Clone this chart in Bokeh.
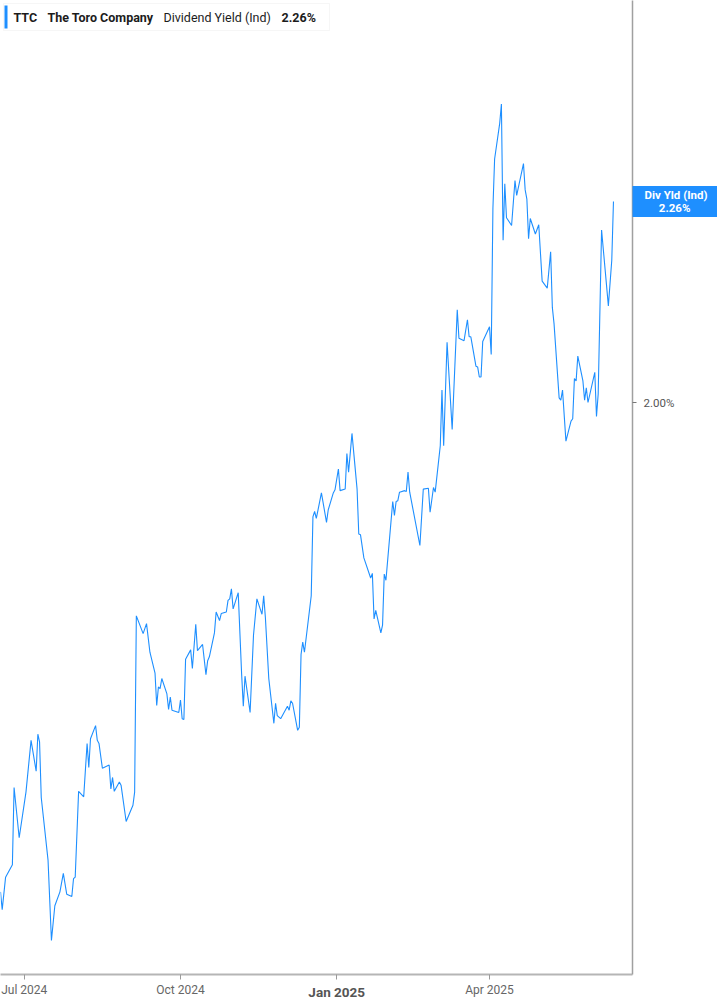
import pandas as pd
from bokeh.plotting import figure
from bokeh.models import (Range1d, FixedTicker, PrintfTickFormatter, Label,
                          BoxAnnotation, DatetimeTickFormatter, LinearAxis,
                          DatetimeAxis, CustomJSTickFormatter)
from bokeh.embed import file_html
from bokeh.resources import INLINE

# ---------------- data ----------------
dates = [
    "2024-06-17", "2024-06-18", "2024-06-20", "2024-06-24", "2024-06-25", "2024-06-28",
    "2024-07-02", "2024-07-05", "2024-07-08", "2024-07-09", "2024-07-10", "2024-07-11",
    "2024-07-15", "2024-07-17", "2024-07-19", "2024-07-22", "2024-07-24", "2024-07-26",
    "2024-07-29", "2024-07-30", "2024-07-31", "2024-08-02", "2024-08-05", "2024-08-07",
    "2024-08-08", "2024-08-09", "2024-08-12", "2024-08-13", "2024-08-14", "2024-08-16",
    "2024-08-20", "2024-08-21", "2024-08-22", "2024-08-23", "2024-08-26", "2024-08-27",
    "2024-08-30", "2024-09-03", "2024-09-04", "2024-09-05", "2024-09-09", "2024-09-11",
    "2024-09-13", "2024-09-16", "2024-09-17", "2024-09-18", "2024-09-19", "2024-09-20",
    "2024-09-23", "2024-09-24", "2024-09-25", "2024-09-26", "2024-09-30", "2024-10-01",
    "2024-10-02", "2024-10-03", "2024-10-04", "2024-10-07", "2024-10-08", "2024-10-10",
    "2024-10-11", "2024-10-14", "2024-10-16", "2024-10-17", "2024-10-18", "2024-10-21",
    "2024-10-22", "2024-10-24", "2024-10-25", "2024-10-28", "2024-10-29", "2024-10-30",
    "2024-10-31", "2024-11-01", "2024-11-04", "2024-11-06", "2024-11-07", "2024-11-08",
    "2024-11-11", "2024-11-13", "2024-11-15", "2024-11-18", "2024-11-19", "2024-11-20",
    "2024-11-22", "2024-11-25", "2024-11-26", "2024-11-27", "2024-11-29", "2024-12-03",
    "2024-12-04", "2024-12-05", "2024-12-06", "2024-12-09", "2024-12-10", "2024-12-11",
    "2024-12-12", "2024-12-13", "2024-12-17", "2024-12-18", "2024-12-19", "2024-12-20",
    "2024-12-23", "2024-12-26", "2024-12-27", "2024-12-30", "2024-12-31", "2025-01-02",
    "2025-01-03", "2025-01-06", "2025-01-07", "2025-01-08", "2025-01-10", "2025-01-13",
    "2025-01-14", "2025-01-15", "2025-01-17", "2025-01-21", "2025-01-22", "2025-01-23",
    "2025-01-24", "2025-01-27", "2025-01-28", "2025-01-29", "2025-01-30", "2025-02-03",
    "2025-02-04", "2025-02-05", "2025-02-06", "2025-02-07", "2025-02-10", "2025-02-11",
    "2025-02-12", "2025-02-13", "2025-02-19", "2025-02-21", "2025-02-24", "2025-02-25",
    "2025-02-27", "2025-02-28", "2025-03-03", "2025-03-04", "2025-03-05", "2025-03-07",
    "2025-03-10", "2025-03-13", "2025-03-14", "2025-03-17", "2025-03-19", "2025-03-20",
    "2025-03-21", "2025-03-24", "2025-03-25", "2025-03-26", "2025-03-27", "2025-03-28",
    "2025-04-01", "2025-04-02", "2025-04-03", "2025-04-04", "2025-04-07", "2025-04-08",
    "2025-04-09", "2025-04-10", "2025-04-11", "2025-04-14", "2025-04-16", "2025-04-17",
    "2025-04-21", "2025-04-22", "2025-04-23", "2025-04-24", "2025-04-25", "2025-04-28",
    "2025-04-30", "2025-05-02", "2025-05-05", "2025-05-07", "2025-05-08", "2025-05-09",
    "2025-05-12", "2025-05-13", "2025-05-14", "2025-05-16", "2025-05-19", "2025-05-20",
    "2025-05-21", "2025-05-22", "2025-05-23", "2025-05-26", "2025-05-27", "2025-05-28",
    "2025-05-29", "2025-06-02", "2025-06-03", "2025-06-04", "2025-06-06", "2025-06-10",
    "2025-06-12", "2025-06-13",
]

yield_pct = [
    1.367, 1.344, 1.386, 1.402, 1.502, 1.437,
    1.496, 1.563, 1.523, 1.571, 1.561, 1.489,
    1.408, 1.304, 1.349, 1.367, 1.391, 1.364,
    1.361, 1.384, 1.386, 1.497, 1.490, 1.559,
    1.528, 1.565, 1.582, 1.563, 1.559, 1.527,
    1.531, 1.500, 1.515, 1.497, 1.509, 1.505,
    1.458, 1.479, 1.496, 1.724, 1.701, 1.714,
    1.677, 1.650, 1.608, 1.632, 1.630, 1.643,
    1.623, 1.603, 1.619, 1.602, 1.599, 1.615,
    1.591, 1.590, 1.668, 1.680, 1.656, 1.713,
    1.679, 1.687, 1.648, 1.666, 1.671, 1.702,
    1.729, 1.718, 1.727, 1.729, 1.744, 1.746,
    1.759, 1.733, 1.754, 1.649, 1.607, 1.646,
    1.599, 1.699, 1.746, 1.726, 1.750, 1.722,
    1.643, 1.585, 1.611, 1.595, 1.591, 1.607,
    1.602, 1.614, 1.611, 1.576, 1.580, 1.674,
    1.690, 1.677, 1.750, 1.852, 1.859, 1.850,
    1.883, 1.845, 1.861, 1.883, 1.887, 1.914,
    1.886, 1.888, 1.934, 1.910, 1.960, 1.888,
    1.830, 1.829, 1.799, 1.773, 1.779, 1.720,
    1.731, 1.702, 1.712, 1.778, 1.770, 1.872,
    1.854, 1.872, 1.873, 1.884, 1.886, 1.885,
    1.910, 1.884, 1.815, 1.888, 1.889, 1.858,
    1.890, 1.884, 1.944, 2.016, 1.944, 2.078,
    1.965, 2.120, 2.083, 2.080, 2.107, 2.085,
    2.085, 2.047, 2.046, 2.033, 2.033, 2.079,
    2.098, 2.062, 2.251, 2.315, 2.361, 2.386,
    2.210, 2.283, 2.239, 2.229, 2.287, 2.268,
    2.309, 2.275, 2.263, 2.212, 2.238, 2.218,
    2.230, 2.157, 2.148, 2.195, 2.123, 2.102,
    2.006, 2.003, 2.016, 1.950, 1.976, 1.979,
    2.031, 2.028, 2.060, 2.028, 2.003, 2.019,
    2.000, 2.039, 1.982, 2.011, 2.223, 2.125,
    2.184, 2.260,
]

tick_dates = ["2024-07-01", "2024-10-01", "2025-01-01", "2025-04-01"]
tick_labels = ["Jul 2024", "Oct 2024", "Jan 2025", "Apr 2025"]
y_ticks = [2.0]

ticker_symbol = "TTC"
company_name = "The Toro Company"
metric_name = "Dividend Yield (Ind)"
metric_short = "Div Yld (Ind)"

x_start = "2024-06-17"
x_end = "2025-06-24 05:00"
y_min, y_max = 1.2601, 2.52

# ---------------- layout ----------------
W, H = 717, 1005
RIGHT, BOTTOM = 85, 31
FW, FH = W - RIGHT, H - BOTTOM
BLUE = "#1e8fff"
AXIS_GRAY = "#a0a0a0"
FONT = "Roboto"

x = pd.to_datetime(dates)
last = yield_pct[-1]

p = figure(width=W, height=H, x_axis_type="datetime", y_axis_location="right",
           output_backend="svg", toolbar_location=None,
           x_range=Range1d(pd.Timestamp(x_start), pd.Timestamp(x_end)),
           y_range=Range1d(y_min, y_max),
           min_border_left=0, min_border_top=0,
           min_border_right=RIGHT, min_border_bottom=BOTTOM)
p.outline_line_color = None
p.grid.visible = False
p.background_fill_color = "white"
p.border_fill_color = "white"

p.line(x, yield_pct, line_color=BLUE, line_width=1.1)

# ---------- bottom axis (regular month labels) ----------
tick_ms = [int(pd.Timestamp(d).value // 10**6) for d in tick_dates]
is_year = [pd.Timestamp(d).month == 1 for d in tick_dates]
xa = p.xaxis[0]
xa.ticker = FixedTicker(ticks=tick_ms)
xa.formatter = DatetimeTickFormatter(months="%b %Y", days="%b %Y", years="%b %Y")
xa.major_label_overrides = {ms: (" " if yr else lab)
                            for ms, lab, yr in zip(tick_ms, tick_labels, is_year)}
xa.axis_line_color = "#b5b5b5"
xa.axis_line_width = 2
xa.major_tick_line_color = "#9a9a9a"
xa.major_tick_in = 0
xa.major_tick_out = 5
xa.minor_tick_line_color = None
xa.major_label_text_font = FONT
xa.major_label_text_font_size = "12px"
xa.major_label_text_color = "#666666"
xa.major_label_standoff = 3

# second bottom axis: bold year-start label, pulled up next to the others
year_ticks = [ms for ms, yr in zip(tick_ms, is_year) if yr]
year_labels = [lab for lab, yr in zip(tick_labels, is_year) if yr]
xb = DatetimeAxis(ticker=FixedTicker(ticks=year_ticks))
xb.major_label_overrides = dict(zip(year_ticks, year_labels))
xb.axis_line_color = None
xb.major_tick_line_color = None
xb.minor_tick_line_color = None
xb.major_tick_in = 0
xb.major_tick_out = 0
xb.major_label_text_font = FONT
xb.major_label_text_font_size = "13.5px"
xb.major_label_text_font_style = "bold"
xb.major_label_text_color = "#555555"
xb.major_label_standoff = -16
p.add_layout(xb, "below")

# ---------- right axis: current-value flag (axis line + blue box tick) ----------
box_text = f"{metric_short}\n" + "\u00a0" * 5 + f"{last:.2f}%"
ya = p.yaxis[0]
ya.ticker = FixedTicker(ticks=[last], minor_ticks=y_ticks)
ya.formatter = CustomJSTickFormatter(args=dict(txt=box_text), code="return txt;")
ya.axis_line_color = AXIS_GRAY
ya.axis_line_width = 1.5
ya.major_tick_line_color = BLUE
ya.major_tick_line_width = 31
ya.major_tick_line_cap = "butt"
ya.major_tick_in = 0
ya.major_tick_out = RIGHT
ya.minor_tick_line_color = "#777777"
ya.minor_tick_line_width = 1
ya.minor_tick_in = 0
ya.minor_tick_out = 4
ya.major_label_text_font = FONT
ya.major_label_text_font_size = "11.5px"
ya.major_label_text_font_style = "bold"
ya.major_label_text_color = "white"
ya.major_label_text_line_height = 0.95
ya.major_label_standoff = -73

# second right axis: the 2.00% tick label, pulled back next to the axis line
yb = LinearAxis(ticker=FixedTicker(ticks=y_ticks),
                formatter=PrintfTickFormatter(format="%.2f%%"))
yb.axis_line_color = None
yb.major_tick_line_color = None
yb.minor_tick_line_color = None
yb.major_tick_in = 0
yb.major_tick_out = 0
yb.major_label_text_font = FONT
yb.major_label_text_font_size = "11.5px"
yb.major_label_text_color = "#555555"
yb.major_label_standoff = -67
p.add_layout(yb, "right")

# ---------- legend box top-left ----------
p.add_layout(BoxAnnotation(left=3, right=329, top=FH - 3, bottom=FH - 30,
                           left_units="screen", right_units="screen",
                           top_units="screen", bottom_units="screen",
                           fill_color="white", fill_alpha=1.0,
                           line_color="#e2e2e2", line_width=1))
p.add_layout(BoxAnnotation(left=4, right=7, top=FH - 5, bottom=FH - 28,
                           left_units="screen", right_units="screen",
                           top_units="screen", bottom_units="screen",
                           fill_color=BLUE, fill_alpha=1.0, line_color=None))

legend_items = [
    (13, ticker_symbol, "bold"),
    (47, company_name, "bold"),
    (163, metric_name, "normal"),
    (281, f"{last:.2f}%", "bold"),
]
for lx, txt, style in legend_items:
    p.add_layout(Label(x=lx, y=FH - 17, x_units="screen", y_units="screen",
                       text=txt, text_baseline="middle", text_align="left",
                       text_font=FONT, text_font_size="12.5px",
                       text_font_style=style, text_color="#1c1c1c"))

open("out.html", "w").write(file_html(p, INLINE))
